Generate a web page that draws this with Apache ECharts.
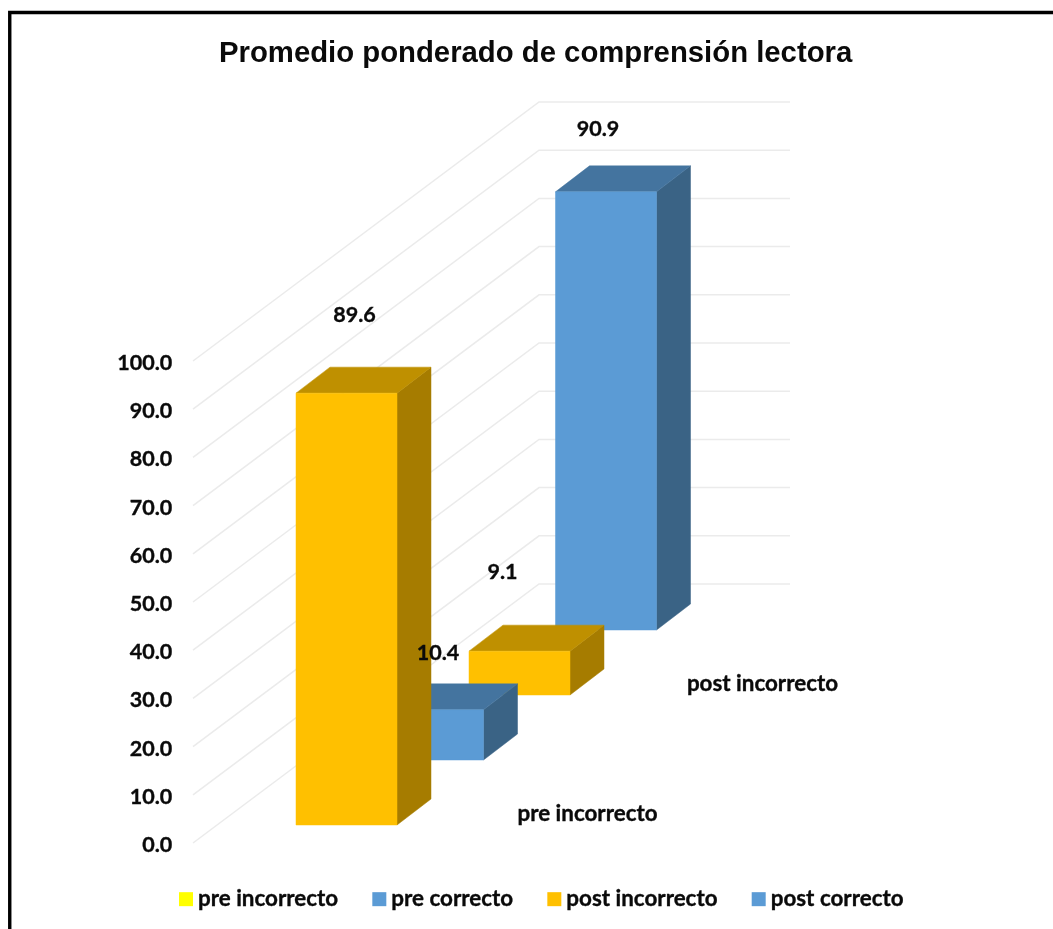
<!DOCTYPE html>
<html>
<head>
<meta charset="utf-8">
<style>html,body{margin:0;padding:0;background:#fff;overflow:hidden}#c{width:1053px;height:929px}</style>
<script src="https://cdn.jsdelivr.net/npm/echarts@6/dist/echarts.min.js"></script>
</head>
<body>
<div id="c"></div>
<script>
const titleText = 'Promedio ponderado de comprensión lectora';
const categories = ['pre incorrecto', 'pre correcto', 'post incorrecto', 'post correcto'];
const values = [89.6, 10.4, 9.1, 90.9];
const yTicks = [0, 10, 20, 30, 40, 50, 60, 70, 80, 90, 100];
const floorLabelled = ['pre incorrecto', 'post incorrecto'];

const legendColors = ['#FFFF00', '#5B9BD5', '#FFC000', '#5B9BD5'];
const orangeFaces = { front: '#FFC000', top: '#BF9000', side: '#A67C00' };
const blueFaces = { front: '#5B9BD5', top: '#44749F', side: '#3A6385' };
const barFaces = [orangeFaces, blueFaces, orangeFaces, blueFaces];
const labelOffsets = [[8, -78], [5, -57], [-17, -79], [-8, -63]];

const LABEL_FONT = 'Lato';
const INK = '#0a0a0a';
const BAR_W = 101, DEPTH_X = 34, DEPTH_Y = -26, STEP_Y = -65, START_Y = -18;
const WALL_X0 = 193, WALL_X1 = 539, WALL_X2 = 790, WALL_DY = -259;

function frontRect(api, i, v) {
  const base = api.coord([i, 0]), top = api.coord([i, v]);
  const shift = START_Y + STEP_Y * i;
  return { l: base[0] - BAR_W / 2, r: base[0] + BAR_W / 2, b: base[1] + shift, t: top[1] + shift };
}
function poly(points, fill) {
  return { type: 'polygon', shape: { points }, style: { fill, stroke: fill, lineWidth: 0.5 } };
}
function renderBar(params, api) {
  const i = api.value(0), v = api.value(1), f = barFaces[i], q = frontRect(api, i, v);
  const dx = DEPTH_X, dy = DEPTH_Y;
  return { type: 'group', silent: true, children: [
    poly([[q.r, q.t], [q.r + dx, q.t + dy], [q.r + dx, q.b + dy], [q.r, q.b]], f.side),
    poly([[q.l, q.t], [q.l + dx, q.t + dy], [q.r + dx, q.t + dy], [q.r, q.t]], f.top),
    poly([[q.l, q.t], [q.r, q.t], [q.r, q.b], [q.l, q.b]], f.front)
  ] };
}
function renderGrid(params, api) {
  const y = api.coord([0, api.value(0)])[1];
  return { type: 'polyline', silent: true,
    shape: { points: [[WALL_X0, y], [WALL_X1, y + WALL_DY], [WALL_X2, y + WALL_DY]] },
    style: { stroke: '#EBEBEB', lineWidth: 1.5, fill: null } };
}
function renderLabels(params, api) {
  const i = api.value(0), v = api.value(1), q = frontRect(api, i, v), o = labelOffsets[i];
  const cx = (q.l + q.r) / 2;
  const base = { fill: INK, stroke: INK, lineWidth: 0.35, align: 'center', verticalAlign: 'middle' };
  const children = [{ type: 'text', style: Object.assign({ x: cx + o[0], y: q.t + o[1], text: v.toFixed(1), font: 'bold 21.5px ' + LABEL_FONT }, base) }];
  if (floorLabelled.includes(categories[i])) {
    children.push({ type: 'text', style: Object.assign({ x: cx + 241 + i, y: q.b - 11.5, text: categories[i], font: 'bold 22.4px ' + LABEL_FONT }, base) });
  }
  return { type: 'group', silent: true, children };
}

const barSeries = categories.map((name, i) => ({
  name, type: 'custom', renderItem: renderBar, coordinateSystem: 'cartesian2d',
  encode: { x: 0, y: 1 }, data: [[i, values[i]]], z: 10 - i,
  itemStyle: { color: legendColors[i] }, silent: true, animation: false
}));

const chart = echarts.init(document.getElementById('c'), null, { renderer: 'canvas' });
chart.setOption({
  animation: false,
  backgroundColor: '#fff',
  title: { text: titleText, left: 214, top: 34,
    textStyle: { fontFamily: 'Liberation Sans', fontWeight: 'bold', fontSize: 29.3, color: INK } },
  legend: { data: categories.map(name => ({ name, icon: 'rect' })), top: 883, left: 174,
    itemWidth: 14, itemHeight: 14, itemGap: 34, selectedMode: false,
    textStyle: { fontFamily: LABEL_FONT, fontWeight: 'bold', fontSize: 22.4, color: INK, textBorderColor: INK, textBorderWidth: 0.35 } },
  grid: { left: 303.25, width: 346, top: 361, height: 482 },
  xAxis: { type: 'category', data: categories, show: false },
  yAxis: { type: 'value', min: 0, max: 100, interval: 10,
    axisLine: { show: false }, axisTick: { show: false }, splitLine: { show: false },
    axisLabel: { margin: 131, verticalAlign: 'top', lineHeight: 4, formatter: v => v.toFixed(1), fontFamily: LABEL_FONT, fontWeight: 'bold', fontSize: 21.5, color: INK, textBorderColor: INK, textBorderWidth: 0.35 } },
  graphic: [{ type: 'polyline', silent: true, shape: { points: [[9.75, 929], [9.75, 12.5], [1053, 12.5]] },
    style: { stroke: '#000', lineWidth: 3.4, fill: null } }],
  series: [
    { name: 'grid', type: 'custom', renderItem: renderGrid, coordinateSystem: 'cartesian2d',
      encode: { y: 0 }, data: yTicks.map(v => [v]), z: 1, silent: true, animation: false },
    ...barSeries,
    { name: 'labels', type: 'custom', renderItem: renderLabels, coordinateSystem: 'cartesian2d',
      encode: { x: 0, y: 1 }, data: values.map((v, i) => [i, v]), z: 20, silent: true, animation: false }
  ]
});
</script>
</body>
</html>
